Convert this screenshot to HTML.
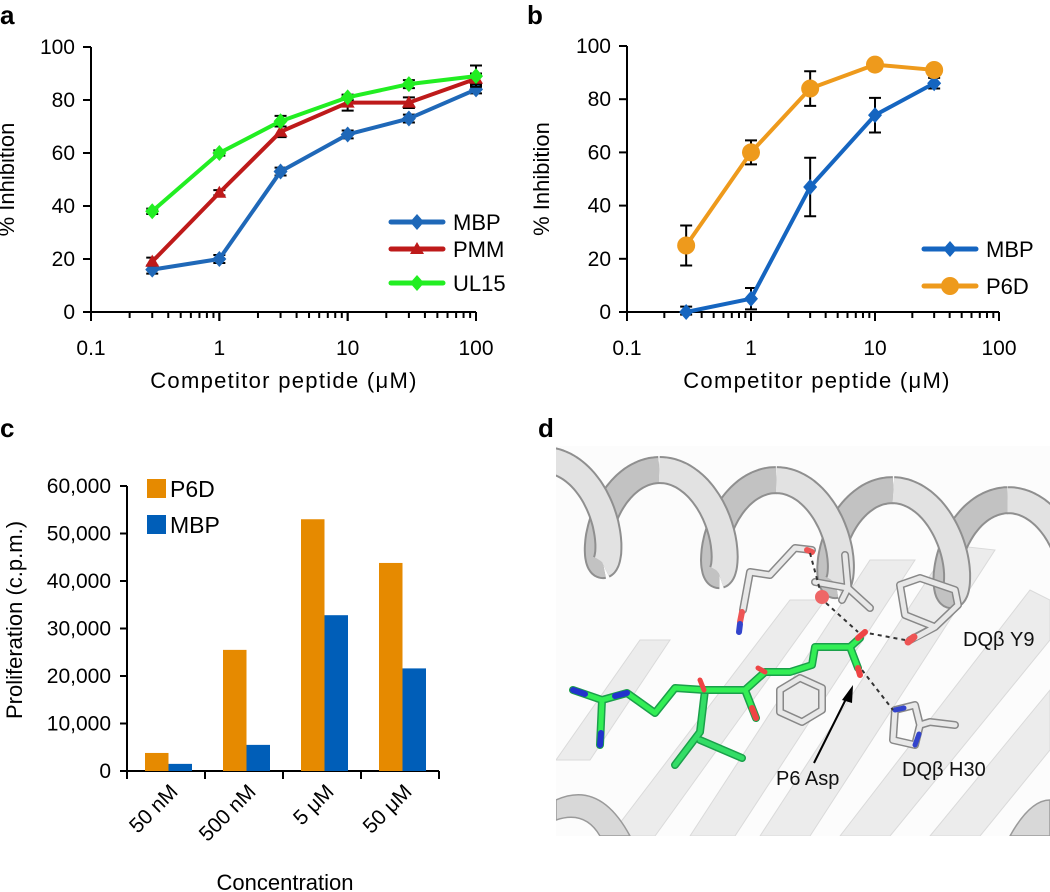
<!DOCTYPE html>
<html><head><meta charset="utf-8">
<style>
html,body{margin:0;padding:0;background:#fff;}
svg{display:block;font-family:"Liberation Sans",sans-serif;}
</style></head>
<body>
<svg id="fig" width="1050" height="892" viewBox="0 0 1050 892" xmlns="http://www.w3.org/2000/svg">
  <text x="0" y="24" font-size="26" font-weight="bold">a</text>
  <text x="527" y="24" font-size="26" font-weight="bold">b</text>
  <text x="0" y="437" font-size="26" font-weight="bold">c</text>
  <text x="538" y="437" font-size="26" font-weight="bold">d</text>

  <g id="pa"></g>
  <g id="pb"></g>
  <g id="pc"></g>

  <g>
    <clipPath id="dclip"><rect x="556" y="446" width="494" height="390"/></clipPath>
    <g clip-path="url(#dclip)">
      <rect x="556" y="446" width="494" height="390" fill="#fcfcfc"/>
      <g fill="#ececec" stroke="#dadada" stroke-width="1">
        <path d="M690 836 L870 560 L915 560 L735 836 Z"/>
        <path d="M760 836 L950 545 L995 550 L810 836 Z"/>
        <path d="M840 836 L1030 590 L1050 600 L1050 640 L890 836 Z"/>
        <path d="M610 836 L790 600 L825 600 L655 836 Z"/>
        <path d="M930 836 L1050 690 L1050 750 L980 836 Z"/>
        <path d="M556 760 L640 640 L670 640 L590 760 Z"/>
      </g>
      <g id="helix"></g>
      <g fill="#d8d8d8" stroke="#9a9a9a" stroke-width="1.5">
        <path d="M556 800 Q600 780 630 836 L600 836 Q585 810 556 820 Z"/>
        <path d="M1010 836 Q1030 800 1050 800 L1050 836 Z"/>
      </g>
      <g stroke-linecap="round" stroke-linejoin="round" fill="none">
        <path d="M812 550 L795 548 L770 575 L750 572 L743 610" stroke="#888" stroke-width="8"/>
        <path d="M812 550 L795 548 L770 575 L750 572 L743 610" stroke="#e8e8e8" stroke-width="5"/>
        <path d="M807 550 L812 552" stroke="#ee5555" stroke-width="6"/>
        <path d="M742 612 L740 622" stroke="#ee5555" stroke-width="6"/>
        <path d="M740 624 L739 632" stroke="#3344cc" stroke-width="6"/>
        <path d="M845 555 L848 588 M815 582 L848 588 L870 608 M848 588 L842 600" stroke="#888" stroke-width="8"/>
        <path d="M845 555 L848 588 M815 582 L848 588 L870 608 M848 588 L842 600" stroke="#e8e8e8" stroke-width="5"/>
        <path d="M900 585 L920 578 L955 590 L958 605 L935 627 L905 615 Z M935 627 L910 640" stroke="#888" stroke-width="8"/>
        <path d="M900 585 L920 578 L955 590 L958 605 L935 627 L905 615 Z M935 627 L915 638" stroke="#e8e8e8" stroke-width="5"/>
        <path d="M914 637 L908 642" stroke="#ee5555" stroke-width="7"/>
        <path d="M780 690 L800 678 L822 688 L822 710 L802 722 L780 712 Z" stroke="#888" stroke-width="8"/>
        <path d="M780 690 L800 678 L822 688 L822 710 L802 722 L780 712 Z" stroke="#e8e8e8" stroke-width="5"/>
        <path d="M895 710 L915 705 L920 725 L930 722 L955 725 M895 710 L893 740 L915 745 L920 725" stroke="#888" stroke-width="8"/>
        <path d="M895 710 L915 705 L920 725 L930 722 L955 725 M895 710 L893 740 L915 745 L920 725" stroke="#e8e8e8" stroke-width="5"/>
        <path d="M895 710 L904 708 M915 745 L919 734" stroke="#3344cc" stroke-width="5"/>
      </g>
      <circle cx="822" cy="597" r="7" fill="#ee6666"/>
      <g stroke="#333" stroke-width="2" stroke-dasharray="4,4" fill="none">
        <path d="M810 553 L820 590"/>
        <path d="M826 603 L858 632"/>
        <path d="M862 632 L905 640"/>
        <path d="M862 670 L893 710"/>
      </g>
      <g stroke-linecap="round" stroke-linejoin="round" fill="none">
        <path d="M705 690 L700 732 L675 765 M700 740 L742 758" stroke="#1aa04a" stroke-width="8"/>
        <path d="M705 690 L700 732 L675 765 M700 740 L742 758" stroke="#33dd66" stroke-width="5"/>
        <path d="M573 690 L602 700 L600 745 M602 700 L627 693 L655 713 L675 688 L705 690 L745 690 L756 718 M745 690 L765 672 L790 672 L812 665 L815 647 L850 647 L860 638 M850 647 L858 668" stroke="#1aa04a" stroke-width="8"/>
        <path d="M573 690 L602 700 L600 745 M602 700 L627 693 L655 713 L675 688 L705 690 L745 690 L756 718 M745 690 L765 672 L790 672 L812 665 L815 647 L850 647 L860 638 M850 647 L858 668" stroke="#33ee55" stroke-width="5"/>
        <path d="M573 690 L585 694 M600 745 L601 733 M615 696 L627 693" stroke="#2233cc" stroke-width="6"/>
        <path d="M756 718 L752 708 M858 638 L865 632 M858 668 L860 675" stroke="#ee4444" stroke-width="6"/>
        <path d="M765 672 L758 668 M700 680 L704 690" stroke="#ee4444" stroke-width="5"/>
      </g>
      <path d="M814 763 L848 695" stroke="#000" stroke-width="2"/>
      <path d="M853 685 L842 700 L852 703 Z" fill="#000"/>
      <text x="963" y="646" font-size="20" fill="#111">DQβ Y9</text>
      <text x="902" y="776" font-size="20" fill="#111">DQβ H30</text>
      <text x="776" y="785" font-size="20" fill="#111">P6 Asp</text>
    </g>
  </g>
</svg>
<script>
// ---------- data ----------
const concA = [0.3, 1, 3, 10, 30, 100];
const mbpA = [16, 20, 53, 67, 73, 84];
const mbpAErr = [1.5, 1.5, 1.5, 1.5, 1.5, 1.5];
const pmmA = [19, 45, 68, 79, 79, 88];
const pmmAErr = [1.5, 1, 2, 3, 2, 2];
const ul15A = [38, 60, 72, 81, 86, 89];
const ul15AErr = [1, 1, 2, 1, 1.5, 4];

const concB = [0.3, 1, 3, 10, 30];
const mbpB = [0, 5, 47, 74, 86];
const mbpBErr = [2, 4, 11, 6.5, 2];
const p6dB = [25, 60, 84, 93, 91];
const p6dBErr = [7.5, 4.5, 6.5, 2, 1];

const yTicks = [0, 20, 40, 60, 80, 100];
const xTickLabels = ["0.1", "1", "10", "100"];
const xTickVals = [0.1, 1, 10, 100];

const categoriesC = ["50 nM", "500 nM", "5 μM", "50 μM"];
const p6dC = [3800, 25500, 53000, 43800];
const mbpC = [1500, 5500, 32800, 21600];
const yTicksC = [0, 10000, 20000, 30000, 40000, 50000, 60000];
const yTickLabelsC = ["0", "10,000", "20,000", "30,000", "40,000", "50,000", "60,000"];

const NS = "http://www.w3.org/2000/svg";
function mk(tag, attrs, parent) {
  const e = document.createElementNS(NS, tag);
  for (const k in attrs) e.setAttribute(k, attrs[k]);
  parent.appendChild(e);
  return e;
}

// decorative helix ribbon for panel d (continuous runs)
(function () {
  const hg = document.getElementById("helix");
  const pts = [];
  for (let t = -1.5; t < 28; t += 0.06) {
    pts.push([545 + t * 18.5 + 28 * Math.sin(t), 510 + t * 1.6 - 50 * Math.cos(t), Math.sin(t) > 0]);
  }
  const runs = [];
  let cur = null;
  for (let i = 0; i < pts.length; i++) {
    const p = pts[i];
    if (!cur || cur.front !== p[2]) {
      cur = {front: p[2], d: (cur ? `M${pts[i - 1][0].toFixed(1)} ${pts[i - 1][1].toFixed(1)} L` : "M") + `${p[0].toFixed(1)} ${p[1].toFixed(1)}`};
      runs.push(cur);
    } else cur.d += ` L${p[0].toFixed(1)} ${p[1].toFixed(1)}`;
  }
  [false, true].forEach(front => {
    runs.filter(r => r.front === front).forEach(r => {
      mk("path", {d: r.d, stroke: "#8f8f8f", "stroke-width": 28, fill: "none", "stroke-linejoin": "round"}, hg);
      mk("path", {d: r.d, stroke: front ? "#e2e2e2" : "#c2c2c2", "stroke-width": 24, fill: "none", "stroke-linejoin": "round"}, hg);
    });
  });
})();

function lineChart(g, ox, x1, y0, y100, series, legend, titleX, titleCx) {
  const xs = v => ox + (Math.log10(v) + 1) / 3 * (x1 - ox);
  const ys = v => y0 - v / 100 * (y0 - y100);
  const ax = mk("path", {d: `M${ox} ${ys(100)} L${ox} ${y0} L${x1} ${y0}`, stroke: "#000", "stroke-width": 2, fill: "none"}, g);
  
  
  yTicks.forEach(t => {
    const tk = mk("line", {x1: ox - 8, x2: ox, y1: ys(t), y2: ys(t), stroke: "#000", "stroke-width": 2}, g);
    
    
    const lb = mk("text", {x: ox - 16, y: ys(t) + 7, "text-anchor": "end", "font-size": 21}, g);
    lb.textContent = t;
    
    
  });
  for (let d = -1; d < 2; d++) {
    for (let m = 1; m <= 10; m++) {
      const v = Math.pow(10, d) * m;
      const major = (m === 1 || m === 10);
      const tk = mk("line", {x1: xs(v), x2: xs(v), y1: y0, y2: y0 + (major ? 9 : 6), stroke: "#000", "stroke-width": 2}, g);
      
      
    }
  }
  xTickVals.forEach((v, i) => {
    const lb = mk("text", {x: xs(v), y: y0 + 43, "text-anchor": "middle", "font-size": 21}, g);
    lb.textContent = xTickLabels[i];
    
    
  });
  const xt = mk("text", {x: titleCx, y: y0 + 76, "text-anchor": "middle", "font-size": 22, "letter-spacing": 1.3}, g);
  xt.textContent = "Competitor peptide (μM)";
  
  
  const yt = mk("text", {x: 0, y: 0, "text-anchor": "middle", "font-size": 22, transform: `translate(${titleX},${(y0 + y100) / 2}) rotate(-90)`}, g);
  yt.textContent = "% Inhibition";
  
  

  function marker(shape, x, y, color, parent) {
    let m;
    if (shape === "diamond") m = mk("path", {d: `M${x} ${y - 8} L${x + 7} ${y} L${x} ${y + 8} L${x - 7} ${y} Z`, fill: color}, parent);
    else if (shape === "tri") m = mk("path", {d: `M${x} ${y - 7} L${x + 7} ${y + 5} L${x - 7} ${y + 5} Z`, fill: color}, parent);
    else m = mk("circle", {cx: x, cy: y, r: 9, fill: color}, parent);
    return m;
  }
  series.forEach(s => {
    const sg = mk("g", {}, g);
    
    
    s.x.forEach((xv, i) => {
      const cx = xs(xv), hi = ys(s.y[i] + s.e[i]), lo = ys(Math.max(s.y[i] - s.e[i], -1));
      const eb = mk("path", {d: `M${cx} ${hi} L${cx} ${lo} M${cx - 6} ${hi} L${cx + 6} ${hi} M${cx - 6} ${lo} L${cx + 6} ${lo}`, stroke: "#000", "stroke-width": 2, fill: "none"}, sg);
      
      
    });
    const pts = s.x.map((xv, i) => `${xs(xv)},${ys(s.y[i])}`).join(" ");
    const pl = mk("polyline", {points: pts, fill: "none", stroke: s.color, "stroke-width": 4, "stroke-linejoin": "round"}, sg);
    
    
    s.x.forEach((xv, i) => {
      const m = marker(s.shape, xs(xv), ys(s.y[i]), s.color, sg);
      
      
    });
  });
  series.forEach((s, i) => {
    const ly = legend.y[i];
    const lg = mk("g", {}, g);
    
    
    mk("line", {x1: legend.x, x2: legend.x + 52, y1: ly, y2: ly, stroke: s.color, "stroke-width": 5, "stroke-linecap": "round"}, lg);
    marker(s.shape, legend.x + 26, ly, s.color, lg);
    const t = mk("text", {x: legend.x + 62, y: ly + 8, "font-size": 22}, lg);
    t.textContent = s.name;
  });
}

lineChart(document.getElementById("pa"), 91, 476, 312, 47, [
  {name: "MBP", x: concA, y: mbpA, e: mbpAErr, color: "#1f68b8", shape: "diamond"},
  {name: "PMM", x: concA, y: pmmA, e: pmmAErr, color: "#be1a1a", shape: "tri"},
  {name: "UL15", x: concA, y: ul15A, e: ul15AErr, color: "#22ee22", shape: "diamond"}
], {x: 391, y: [222, 249, 283]}, 14, 284);

lineChart(document.getElementById("pb"), 627, 999, 312, 46, [
  {name: "MBP", x: concB, y: mbpB, e: mbpBErr, color: "#1565c0", shape: "diamond"},
  {name: "P6D", x: concB, y: p6dB, e: p6dBErr, color: "#ee9a1c", shape: "circle"}
], {x: 924, y: [249, 286]}, 549, 817);

// ---------- panel c ----------
(function () {
  const g = document.getElementById("pc");
  const ox = 127, y0 = 771, yTop = 486, groupW = 78;
  const ys = v => y0 - v / 60000 * (y0 - yTop);
  const ax = mk("path", {d: `M${ox} ${yTop} L${ox} ${y0} L${ox + groupW * 4} ${y0}`, stroke: "#000", "stroke-width": 2, fill: "none"}, g);
  
  
  yTicksC.forEach((t, i) => {
    const tk = mk("line", {x1: ox - 7, x2: ox, y1: ys(t), y2: ys(t), stroke: "#000", "stroke-width": 2}, g);
    
    
    const lb = mk("text", {x: ox - 16, y: ys(t) + 7, "text-anchor": "end", "font-size": 21}, g);
    lb.textContent = yTickLabelsC[i];
    
    
  });
  for (let i = 0; i <= 4; i++) {
    const tk = mk("line", {x1: ox + i * groupW, x2: ox + i * groupW, y1: y0, y2: y0 + 8, stroke: "#000", "stroke-width": 2}, g);
    
    
  }
  categoriesC.forEach((c, i) => {
    const gx = ox + i * groupW;
    const b1 = mk("rect", {x: gx + 18, y: ys(p6dC[i]), width: 23.5, height: y0 - ys(p6dC[i]), fill: "#e68a00"}, g);
    
    
    const b2 = mk("rect", {x: gx + 41.5, y: ys(mbpC[i]), width: 23.5, height: y0 - ys(mbpC[i]), fill: "#005eb8"}, g);
    
    
    const lb = mk("text", {x: 0, y: 0, "text-anchor": "end", "font-size": 21, transform: `translate(${gx + 52},${y0 + 22}) rotate(-45)`}, g);
    lb.textContent = c;
    
    
  });
  const xt = mk("text", {x: 285, y: 890, "text-anchor": "middle", "font-size": 22}, g);
  xt.textContent = "Concentration";
  
  
  const yt = mk("text", {x: 0, y: 0, "text-anchor": "middle", "font-size": 22, transform: `translate(22,620) rotate(-90)`}, g);
  yt.textContent = "Proliferation (c.p.m.)";
  
  
  [["P6D", "#e68a00", 479], ["MBP", "#005eb8", 515]].forEach(l => {
    const lg = mk("g", {}, g);
    
    
    mk("rect", {x: 147, y: l[2], width: 19, height: 19, fill: l[1]}, lg);
    const t = mk("text", {x: 170, y: l[2] + 18, "font-size": 23}, lg);
    t.textContent = l[0];
  });
})();
</script>
</body></html>
